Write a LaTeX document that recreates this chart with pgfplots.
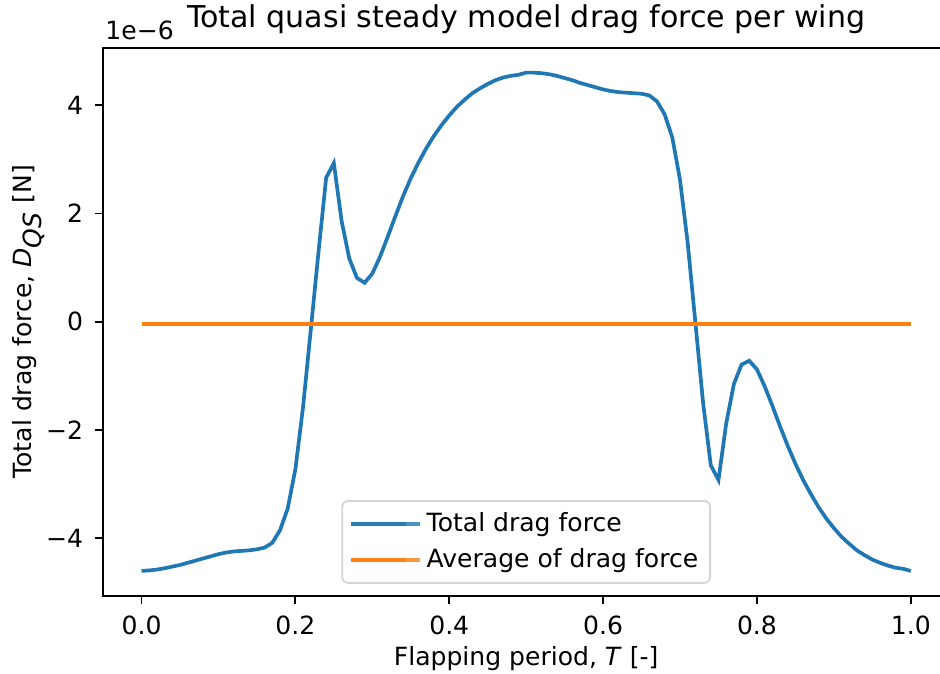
\documentclass[border=0pt]{standalone}
\usepackage{fontspec}
\setmainfont{DejaVu Sans}
\usepackage{pgfplots}
\pgfplotsset{compat=1.18}
\definecolor{C0}{HTML}{1F77B4}
\definecolor{C1}{HTML}{FF7F0E}
\pgfplotstableread{
x y
0.00 -4.60
0.01 -4.59
0.02 -4.575
0.03 -4.55
0.04 -4.52
0.05 -4.49
0.06 -4.45
0.07 -4.41
0.08 -4.37
0.09 -4.33
0.10 -4.29
0.11 -4.26
0.12 -4.24
0.13 -4.23
0.14 -4.22
0.15 -4.20
0.16 -4.17
0.17 -4.08
0.18 -3.85
0.19 -3.45
0.20 -2.72
0.21 -1.57
0.22 -0.15
0.23 1.28
0.24 2.66
0.25 2.93
0.26 1.87
0.27 1.17
0.28 0.81
0.29 0.72
0.30 0.89
0.31 1.20
0.32 1.57
0.33 1.95
0.34 2.32
0.35 2.65
0.36 2.94
0.37 3.20
0.38 3.43
0.39 3.63
0.40 3.81
0.41 3.97
0.42 4.10
0.43 4.22
0.44 4.31
0.45 4.39
0.46 4.46
0.47 4.51
0.48 4.54
0.49 4.56
0.50 4.60
0.51 4.60
0.52 4.59
0.53 4.57
0.54 4.54
0.55 4.50
0.56 4.46
0.57 4.41
0.58 4.37
0.59 4.33
0.60 4.29
0.61 4.26
0.62 4.24
0.63 4.23
0.64 4.22
0.65 4.21
0.66 4.18
0.67 4.07
0.68 3.83
0.69 3.40
0.70 2.62
0.71 1.45
0.72 -0.02
0.73 -1.50
0.74 -2.65
0.75 -2.92
0.76 -1.88
0.77 -1.15
0.78 -0.79
0.79 -0.72
0.80 -0.88
0.81 -1.19
0.82 -1.55
0.83 -1.93
0.84 -2.29
0.85 -2.62
0.86 -2.92
0.87 -3.18
0.88 -3.42
0.89 -3.63
0.90 -3.81
0.91 -3.97
0.92 -4.10
0.93 -4.22
0.94 -4.31
0.95 -4.39
0.96 -4.45
0.97 -4.50
0.98 -4.54
0.99 -4.56
1.00 -4.60
}\dragdata
\pgfplotstableread{
x y
0.0 -0.04
1.0 -0.04
}\avgdata
\begin{document}
\begin{tikzpicture}
\begin{axis}[name=ax, scale only axis, width=356.3pt, height=230.8pt,
  xmin=-0.05, xmax=1.05, ymin=-5.06, ymax=5.06,
  xtick={0,0.2,0.4,0.6,0.8,1.0}, xticklabels={0.0,0.2,0.4,0.6,0.8,1.0},
  ytick={-4,-2,0,2,4}, yticklabels={−4,−2,0,2,4},
  tick align=outside, tick pos=left, major tick length=3.6pt,
  every tick/.style={black, line width=0.8pt},
  axis line style={line width=0.8pt, black},
  ticklabel style={font=\fontsize{10.55}{12.6}\selectfont},
  xticklabel style={anchor=north, inner sep=0pt, yshift=-4.5pt},
  yticklabel style={anchor=east, inner sep=0pt, xshift=-4.6pt},
  title={Total quasi steady model drag force per wing},
  title style={at={(axis description cs:0.5,1.0372)}, anchor=base, yshift=-6pt, inner sep=0pt, font=\fontsize{12.66}{15}\selectfont},
  xlabel={Flapping period, \textit{T} [-]},
  xlabel style={at={(axis description cs:0.5,-0.1268)}, anchor=base, inner sep=0pt, font=\fontsize{10.55}{12.6}\selectfont},
  ylabel={Total drag force, \textit{D}$_{\textit{QS}}$ [N]},
  ylabel style={at={(axis description cs:-0.0843,0.5)}, anchor=base, inner sep=0pt, font=\fontsize{10.55}{12.6}\selectfont},
  legend cell align=left,
  legend image code/.code={\draw[#1] (0pt,0pt) -- (23pt,0pt); \path (0pt,0pt) -- (29pt,0pt);},
  legend style={at={(axis description cs:0.5,0.022)}, anchor=south,
    draw=black!20, line width=0.8pt, rounded corners=2.5pt, fill=white, fill opacity=0.8, draw opacity=0.8, text opacity=1,
    font=\fontsize{10.55}{12.6}\selectfont, inner xsep=3pt, inner ysep=3pt, row sep=1.5pt},
]
\addplot[C0, line width=1.55pt, sharp corners] table[x=x,y=y] {\dragdata};
\addlegendentry{Total drag force}
\addplot[C1, line width=1.55pt, sharp corners] table[x=x,y=y] {\avgdata};
\addlegendentry{Average of drag force}
\end{axis}
\node[anchor=base west, inner sep=0pt, font=\fontsize{10.55}{12.6}\selectfont] at ([xshift=0.8pt, yshift=3.5pt]ax.north west) {1e−6};
\pgfresetboundingbox
\path[use as bounding box] ([xshift=-43.4pt, yshift=-32.8pt]ax.south west) rectangle ([xshift=-3.9pt, yshift=20.1pt]ax.north east);
\end{tikzpicture}
\end{document}
